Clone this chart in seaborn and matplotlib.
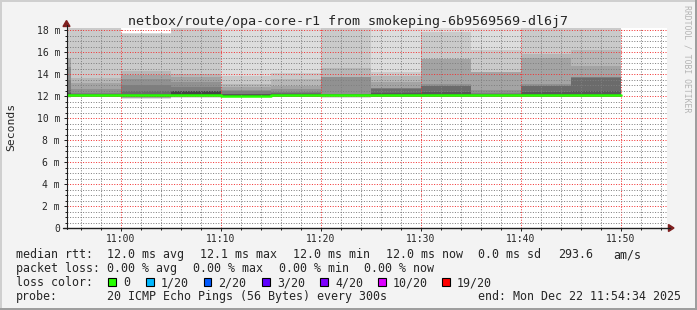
import numpy as np
import pandas as pd
import matplotlib
matplotlib.use("Agg")
import matplotlib.pyplot as plt
import seaborn as sns
from matplotlib.patches import Rectangle, Polygon
from matplotlib.lines import Line2D
from matplotlib.ticker import MultipleLocator

# ---------------- data ----------------
# start of each 5-minute smokeping step (first one is the partial step at window start)
seg_start = ["10:54:34", "10:55", "11:00", "11:05", "11:10", "11:15",
             "11:20", "11:25", "11:30", "11:35", "11:40", "11:45"]
data_end = "11:50"
window = ("10:54:34", "11:54:34")

# 20 sorted ping RTTs (ms) per step, lowest -> highest
p_1050 = [11.84, 11.87, 11.90, 11.92, 11.94, 11.95, 11.96, 11.97, 11.98, 12.00,
          12.10, 12.18, 12.25, 12.55, 13.45, 14.67, 15.40, 15.42, 18.80, 19.50]
p_1055 = [11.88, 11.90, 11.92, 11.93, 11.94, 11.95, 11.96, 11.97, 11.99, 12.02,
          12.10, 12.12, 12.14, 12.18, 12.30, 12.64, 13.15, 13.66, 18.80, 19.50]
p_1100 = [11.75, 11.78, 11.82, 11.85, 11.88, 11.90, 11.92, 11.95, 11.98, 12.00,
          12.10, 12.12, 12.15, 12.48, 13.00, 13.55, 13.90, 14.27, 17.68, 17.72]
p_1105 = [11.85, 11.88, 11.90, 11.92, 11.94, 11.96, 11.98, 12.00, 12.02, 12.04,
          12.20, 12.41, 12.43, 12.45, 12.80, 13.25, 13.70, 14.00, 18.80, 19.50]
p_1110 = [11.88, 11.90, 11.92, 11.93, 11.94, 11.95, 11.96, 11.97, 11.98, 12.00,
          12.08, 12.12, 12.15, 12.22, 12.42, 12.58, 12.80, 13.05, 13.85, 19.50]
p_1115 = [11.88, 11.90, 11.92, 11.93, 11.94, 11.95, 11.96, 11.97, 11.98, 12.02,
          12.10, 12.14, 12.18, 12.25, 12.40, 12.64, 12.95, 13.55, 14.10, 19.50]
p_1120 = [11.85, 11.88, 11.90, 11.92, 11.94, 11.96, 11.98, 12.00, 12.03, 12.06,
          12.12, 12.13, 12.15, 12.17, 12.20, 13.70, 13.75, 14.55, 18.80, 19.50]
p_1125 = [11.88, 11.90, 11.92, 11.93, 11.94, 11.95, 11.96, 11.97, 11.99, 12.02,
          12.12, 12.18, 12.30, 12.68, 12.70, 12.72, 13.30, 13.80, 14.20, 19.50]
p_1130 = [11.88, 11.90, 11.92, 11.93, 11.94, 11.95, 11.96, 11.97, 11.99, 12.02,
          12.12, 12.20, 12.40, 12.93, 12.95, 13.06, 15.33, 15.35, 17.80, 19.50]
p_1135 = [11.88, 11.90, 11.92, 11.93, 11.94, 11.95, 11.96, 11.97, 11.99, 12.02,
          12.10, 12.12, 12.15, 12.20, 12.30, 12.58, 14.18, 14.20, 16.15, 19.50]
p_1140 = [11.88, 11.90, 11.92, 11.93, 11.94, 11.95, 11.96, 11.97, 11.99, 12.02,
          12.12, 12.20, 12.40, 12.88, 12.90, 13.06, 15.50, 15.80, 18.80, 19.50]
p_1145 = [11.88, 11.90, 11.92, 11.93, 11.94, 11.95, 11.96, 11.97, 11.99, 12.02,
          12.10, 12.15, 12.48, 13.68, 13.70, 13.72, 14.76, 16.18, 18.80, 19.50]
pings = [p_1050, p_1055, p_1100, p_1105, p_1110, p_1115,
         p_1120, p_1125, p_1130, p_1135, p_1140, p_1145]

# median RTT (ms) per step (green line, 0 loss)
median_rtt = [12.05, 12.06, 12.05, 12.12, 12.04, 12.06,
              12.09, 12.07, 12.07, 12.06, 12.07, 12.06]

xtick_times = ["11:00", "11:10", "11:20", "11:30", "11:40", "11:50"]
ytick_vals = [0, 2, 4, 6, 8, 10, 12, 14, 16, 18]
ytick_labels = ["0", "2 m", "4 m", "6 m", "8 m", "10 m", "12 m", "14 m", "16 m", "18 m"]

title = "netbox/route/opa-core-r1 from smokeping-6b9569569-dl6j7"
legend_rtt = [("median rtt:", 16), ("12.0 ms avg", 107), ("12.1 ms max", 200),
              ("12.0 ms min", 293), ("12.0 ms now", 386), ("0.0 ms sd", 478),
              ("293.6", 558), ("am/s", 613)]
legend_loss = [("packet loss:", 16), ("0.00 % avg", 107), ("0.00 % max", 193),
               ("0.00 % min", 279), ("0.00 % now", 364)]
loss_labels = ["0", "1/20", "2/20", "3/20", "4/20", "10/20", "19/20"]
loss_colors = ["#26ff00", "#00b8ff", "#0059ff", "#5e00ff", "#7e00ff", "#dd00ff", "#ff0000"]
loss_box_x = [108, 146, 203.5, 262, 320, 378, 442]
probe_text = "20 ICMP Echo Pings (56 Bytes) every 300s"
end_text = "end: Mon Dec 22 11:54:34 2025"

# ---------------- styling ----------------
sns.set_style("white")
plt.rcParams["font.family"] = ["DejaVu Sans Mono"]

W, H = 697, 310
def fx(x):
    return x / W
def fy(y):
    return 1 - y / H
def to_min(s):
    parts = [int(v) for v in s.split(":")]
    sec = parts[2] if len(parts) > 2 else 0
    return parts[0] * 60 + parts[1] + sec / 60 - 600  # minutes since 10:00

fig = plt.figure(figsize=(W / 100, H / 100), dpi=100, facecolor="#f3f3f3")
ax = fig.add_axes([fx(66.67), fy(228), 600 / W, 200 / H])
ax.set_facecolor("white")

steps = [to_min(s) for s in seg_start] + [to_min(data_end)]
P = np.array(pings).T  # 20 x nseg
half = 10
for k in range(1, half + 1):
    lo = P[k - 1]
    hi = P[20 - k]
    g = int(190 / half * (half - k)) + 50
    col = "#%02x%02x%02x" % (g, g, g)
    ax.fill_between(steps, np.append(lo, lo[-1]), np.append(hi, hi[-1]),
                    step="post", color=col, lw=0, zorder=1)

df = pd.DataFrame({"t": steps, "median": median_rtt + [median_rtt[-1]]})
sns.lineplot(data=df, x="t", y="median", drawstyle="steps-post",
             color="#26ff00", lw=1.8, ax=ax, zorder=3)

ax.set_xlim(to_min(window[0]), to_min(window[1]))
ax.set_ylim(0, 200 / 11)
ax.set_xticks([to_min(t) for t in xtick_times])
ax.set_xticklabels(xtick_times)
ax.xaxis.set_minor_locator(MultipleLocator(2))
ax.set_yticks(ytick_vals)
ax.set_yticklabels(ytick_labels)
ax.yaxis.set_minor_locator(MultipleLocator(0.5))
ax.set_xlabel("")
ax.set_ylabel("")

ax.set_axisbelow(False)
ax.grid(which="minor", color=(0.5, 0.5, 0.5, 0.26), lw=0.72, ls=(0, (1, 1.6)))
ax.grid(which="major", color=(0.95, 0.2, 0.2, 0.42), lw=0.72, ls=(0, (1, 1.6)))

ax.tick_params(which="both", direction="out", bottom=True, left=True,
               color="#1f1f1f", width=0.72)
ax.tick_params(which="major", length=2.2, labelsize=7, pad=2.6)
ax.tick_params(which="minor", length=1.4)
ax.tick_params(axis="x", which="major", pad=2.0)
for sp in ax.spines.values():
    sp.set_visible(False)

# axis lines and arrows (rrdtool style)
fig.add_artist(Line2D([fx(66.5), fx(66.5)], [fy(228.5), fy(25)], color="#1f1f1f",
                      lw=0.8, transform=fig.transFigure))
fig.add_artist(Line2D([fx(63), fx(670)], [fy(228), fy(228)], color="#1f1f1f",
                      lw=1.0, transform=fig.transFigure))
fig.add_artist(Polygon([(fx(63), fy(26.5)), (fx(70), fy(26.5)), (fx(66.5), fy(20.5))],
                       closed=True, color="#7f1f1f", transform=fig.transFigure))
fig.add_artist(Polygon([(fx(668.5), fy(224.5)), (fx(668.5), fy(231.5)), (fx(674), fy(228))],
                       closed=True, color="#7f1f1f", transform=fig.transFigure))

# frame
fig.add_artist(Rectangle((0, fy(2)), 1, 2 / H, color="#cfcfcf", transform=fig.transFigure, lw=0))
fig.add_artist(Rectangle((0, 0), 2 / W, 1, color="#cfcfcf", transform=fig.transFigure, lw=0))
fig.add_artist(Rectangle((0, 0), 1, 2 / H, color="#9e9e9e", transform=fig.transFigure, lw=0))
fig.add_artist(Rectangle((fx(694.5), 0), 2.5 / W, 1, color="#9e9e9e", transform=fig.transFigure, lw=0))

# texts
fig.text(fx(347.5), fy(24.5), title, ha="center", va="baseline", fontsize=9.6)
fig.text(fx(11), fy(126.5), "Seconds", rotation=90, ha="center", va="center", fontsize=8.2)
fig.text(fx(687.5), fy(59), "RRDTOOL / TOBI OETIKER", rotation=270, ha="center",
         va="center", fontsize=5.9, color="#b4b4b4")

LFS = 8.4
for s, x in legend_rtt:
    fig.text(fx(x), fy(258), s, ha="left", va="baseline", fontsize=LFS)
for s, x in legend_loss:
    fig.text(fx(x), fy(272), s, ha="left", va="baseline", fontsize=LFS)
fig.text(fx(16), fy(286), "loss color:", ha="left", va="baseline", fontsize=LFS)
for lab, col, x in zip(loss_labels, loss_colors, loss_box_x):
    fig.add_artist(Rectangle((fx(x), fy(286)), 7.5 / W, 8 / H, facecolor=col,
                             edgecolor="black", lw=0.8, transform=fig.transFigure))
    fig.text(fx(x + 15), fy(286), lab, ha="left", va="baseline", fontsize=LFS)
fig.text(fx(16), fy(300), "probe:", ha="left", va="baseline", fontsize=LFS)
fig.text(fx(107), fy(300), probe_text, ha="left", va="baseline", fontsize=LFS)
fig.text(fx(478), fy(300), end_text, ha="left", va="baseline", fontsize=LFS)

fig.savefig("out.png", dpi=100, facecolor=fig.get_facecolor())
